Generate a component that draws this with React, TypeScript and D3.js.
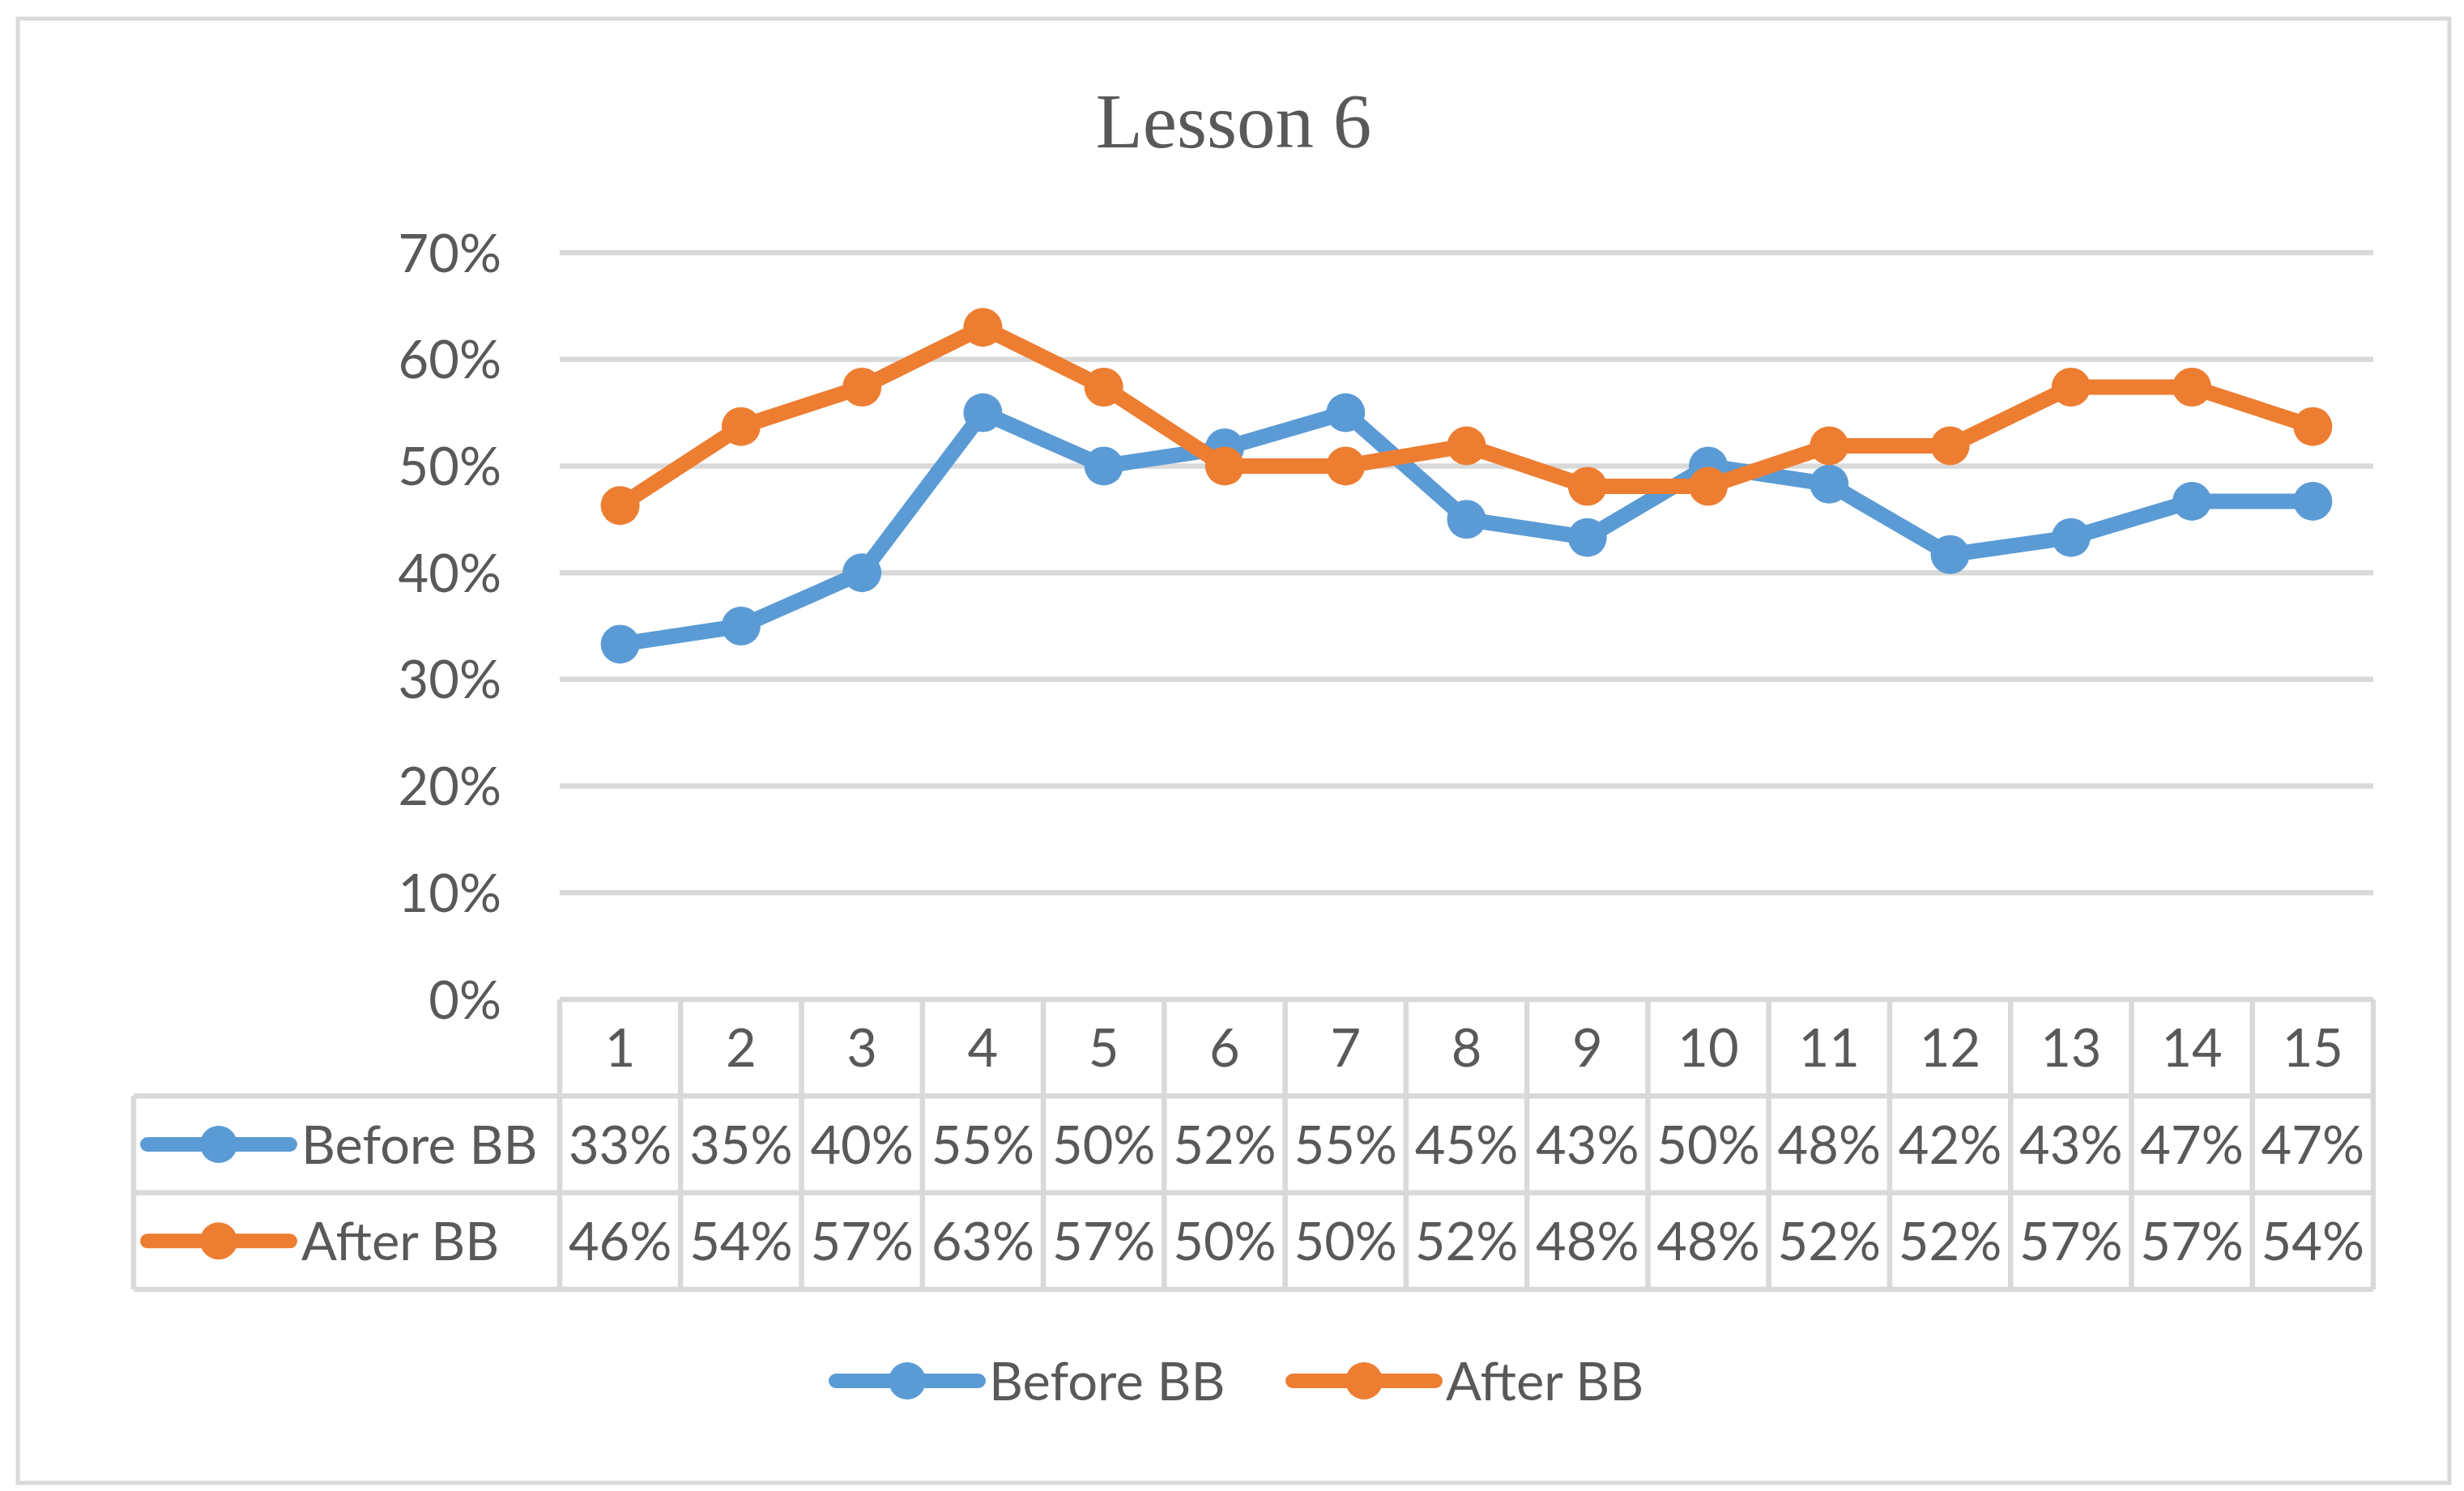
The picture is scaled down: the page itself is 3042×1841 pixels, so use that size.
import { useEffect } from "react";
import * as d3 from "d3";

const W = 3042;
const H = 1841;

const TITLE = "Lesson 6";
const CATEGORIES = ["1", "2", "3", "4", "5", "6", "7", "8", "9", "10", "11", "12", "13", "14", "15"];
const SERIES_NAMES = ["Before BB", "After BB"];
const BEFORE = [0.333, 0.35, 0.4, 0.55, 0.5, 0.517, 0.55, 0.45, 0.433, 0.5, 0.483, 0.417, 0.433, 0.467, 0.467];
const AFTER = [0.463, 0.537, 0.574, 0.63, 0.574, 0.5, 0.5, 0.519, 0.481, 0.481, 0.519, 0.519, 0.574, 0.574, 0.537];
const Y_TICKS = [0, 0.1, 0.2, 0.3, 0.4, 0.5, 0.6, 0.7];

const COLORS = ["#5b9bd5", "#ed7d31"];
const TEXT = "#595959";
const GRID = "#d9d9d9";
const SANS = "Lato, 'Open Sans', sans-serif";

const plot = { left: 691, right: 2930, top: 312, bottom: 1234 };
const tableLeft = 165;
const tableBottom = 1592;
const fontSize = 65;
const capHalf = 23.5;

export default function App() {
  useEffect(() => {
    document.body.style.margin = "0";
  }, []);

  const x = d3.scaleBand<string>().domain(CATEGORIES).range([plot.left, plot.right]);
  const y = d3.scaleLinear().domain([0, 0.7]).range([plot.bottom, plot.top]);
  const rows = d3
    .scaleBand<string>()
    .domain(["cat", ...SERIES_NAMES])
    .range([plot.bottom, tableBottom]);
  const pct = d3.format(".0%");

  const line = d3
    .line<number>()
    .x((_, i) => x(CATEGORIES[i])! + x.bandwidth() / 2)
    .y((d) => y(d));

  const series = [BEFORE, AFTER];

  // legend key: line + dot
  const key = (cx: number, cy: number, color: string) => (
    <g>
      <line x1={cx - 88} x2={cx + 88} y1={cy} y2={cy} stroke={color} strokeWidth={18} strokeLinecap="round" />
      <circle cx={cx} cy={cy} r={23} fill={color} />
    </g>
  );

  const colEdges = d3.range(CATEGORIES.length + 1).map((i) => plot.left + i * x.step());

  return (
    <svg width={W} height={H} style={{ display: "block", background: "#fff" }}>
      <rect x={22} y={23} width={3002} height={1808} fill="#fff" stroke={GRID} strokeWidth={5} />

      <text
        x={1523}
        y={182}
        textAnchor="middle"
        fontFamily="'Liberation Serif', 'Times New Roman', serif"
        fontSize={95}
        fill={TEXT}
      >
        {TITLE}
      </text>

      {/* gridlines + y labels */}
      {Y_TICKS.map((t) => (
        <g key={t}>
          <line x1={plot.left} x2={plot.right} y1={y(t)} y2={y(t)} stroke={GRID} strokeWidth={6.5} />
          <text
            x={619}
            y={y(t) + capHalf}
            textAnchor="end"
            fontFamily={SANS}
            fontSize={fontSize}
            fill={TEXT}
          >
            {pct(t)}
          </text>
        </g>
      ))}

      {/* data table */}
      <g stroke={GRID} strokeWidth={6.5}>
        {SERIES_NAMES.map((s) => (
          <line key={s} x1={tableLeft} x2={plot.right} y1={rows(s)!} y2={rows(s)!} />
        ))}
        <line x1={tableLeft} x2={plot.right} y1={tableBottom} y2={tableBottom} />
        <line x1={tableLeft} x2={tableLeft} y1={rows(SERIES_NAMES[0])!} y2={tableBottom} />
        {colEdges.map((cx) => (
          <line key={cx} x1={cx} x2={cx} y1={plot.bottom} y2={tableBottom} />
        ))}
      </g>

      {CATEGORIES.map((c) => (
        <text
          key={c}
          x={x(c)! + x.bandwidth() / 2}
          y={rows("cat")! + rows.bandwidth() / 2 + capHalf}
          textAnchor="middle"
          fontFamily={SANS}
          fontSize={fontSize}
          fill={TEXT}
        >
          {c}
        </text>
      ))}

      {SERIES_NAMES.map((s, si) => {
        const cy = rows(s)! + rows.bandwidth() / 2;
        return (
          <g key={s}>
            {key(270, cy, COLORS[si])}
            <text x={372} y={cy + capHalf} fontFamily={SANS} fontSize={fontSize} fill={TEXT}>
              {s}
            </text>
            {series[si].map((v, i) => (
              <text
                key={i}
                x={x(CATEGORIES[i])! + x.bandwidth() / 2}
                y={cy + capHalf}
                textAnchor="middle"
                fontFamily={SANS}
                fontSize={fontSize}
                fill={TEXT}
              >
                {pct(v)}
              </text>
            ))}
          </g>
        );
      })}

      {/* series */}
      {series.map((data, si) => (
        <g key={si}>
          <path d={line(data)!} fill="none" stroke={COLORS[si]} strokeWidth={19} strokeLinejoin="round" />
          {data.map((v, i) => (
            <circle key={i} cx={x(CATEGORIES[i])! + x.bandwidth() / 2} cy={y(v)} r={24} fill={COLORS[si]} />
          ))}
        </g>
      ))}

      {/* bottom legend */}
      {SERIES_NAMES.map((s, si) => {
        const kx = 1120 + si * 564;
        return (
          <g key={s}>
            {key(kx, 1705, COLORS[si])}
            <text x={kx + 101} y={1705 + capHalf} fontFamily={SANS} fontSize={fontSize} fill={TEXT}>
              {s}
            </text>
          </g>
        );
      })}
    </svg>
  );
}
